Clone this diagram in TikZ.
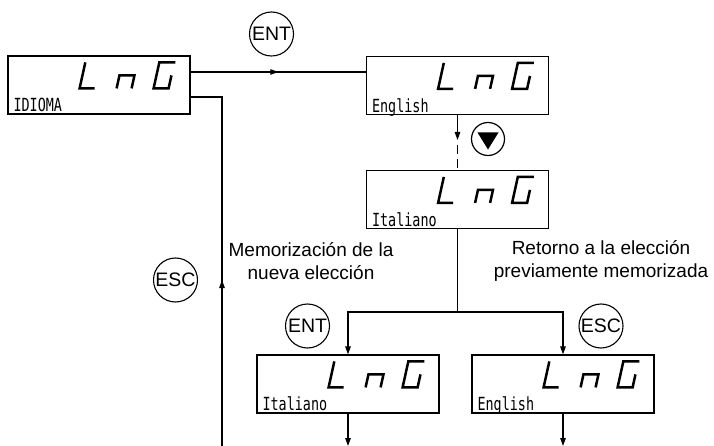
\documentclass[tikz,border=0pt]{standalone}
\usepackage{fontspec}
\usepackage{graphicx}
\setmainfont{Liberation Sans}
\newfontfamily\lcdfont{DejaVu Sans Mono}
\usetikzlibrary{arrows.meta,decorations.markings}
\tikzset{
  lcd/.style={draw, line width=1.2pt, minimum width=182pt, minimum height=58pt, inner sep=0pt},
  lcdlabel/.style={anchor=base west, inner sep=0pt, font=\lcdfont\fontsize{13.4}{14}\selectfont},
  keycircle/.style={circle, draw, line width=1.1pt, minimum size=44pt, inner sep=0pt, font=\fontsize{19.5}{19.5}\selectfont},
  note/.style={align=center, inner sep=0pt, font=\fontsize{19}{23}\selectfont},
  conn/.style={line width=1.2pt},
  tip/.style={-{Triangle[length=8pt,width=5.5pt]}},
  midarrow/.style={postaction={decorate}, decoration={markings, mark=at position #1 with {\arrow{Triangle[length=8pt,width=5.5pt]}}}},
  lng/.pic={
    \begin{scope}[xslant=0.22, line width=2.5pt, line join=miter]
      \draw (-111,-26) -- (-111,0) -- (-96,0);
      \draw (-74,0) -- (-74,-13) -- (-59,-13) -- (-59,0);
      \draw (-21,-26) -- (-37,-26) -- (-37,0) -- (-22,0) -- (-22,-13);
    \end{scope}
  }
}
\begin{document}
\begin{tikzpicture}[x=1pt, y=-1pt]
\useasboundingbox (0,0) rectangle (714,446);

% boxes
\node[lcd] (idioma) at (99,85) {};
\node[lcd] (eng) at (457.5,85.5) {};
\node[lcd] (ita) at (457.5,199.5) {};
\node[lcd] (ita2) at (348,384) {};
\node[lcd] (eng2) at (563,384) {};

\foreach \b in {idioma,eng,ita,ita2,eng2}
  \pic at ([yshift=-33pt]\b.north east) {lng};

\node[lcdlabel] (lidioma) at ([xshift=6pt,yshift=3pt]idioma.south west) {\scalebox{1}[1.35]{IDIOMA}};
\node[lcdlabel] (leng) at ([xshift=6pt,yshift=3pt]eng.south west) {\scalebox{1}[1.35]{English}};
\node[lcdlabel] (lita) at ([xshift=6pt,yshift=3pt]ita.south west) {\scalebox{1}[1.35]{Italiano}};
\node[lcdlabel] (lita2) at ([xshift=6pt,yshift=3pt]ita2.south west) {\scalebox{1}[1.35]{Italiano}};
\node[lcdlabel] (leng2) at ([xshift=6pt,yshift=3pt]eng2.south west) {\scalebox{1}[1.35]{English}};

% key circles
\node[keycircle] (ent1) at (271.5,34) {ENT};
\node[keycircle] (esc1) at (175.5,280) {ESC};
\node[keycircle] (ent2) at (307.5,326) {ENT};
\node[keycircle] (esc2) at (601,326) {ESC};
\node[circle, draw, line width=1.2pt, minimum size=33pt, inner sep=0pt] (down) at (488,139) {};
\fill ([shift={(-10.5,-6.5)}]down.center) -- ++(21,0) -- ++(-10.5,17) -- cycle;

% notes
\node[note] (mem) at (311,261) {Memorización de la\\nueva elección};
\node[note] (ret) at (601,261) {Retorno a la elección\\previamente memorizada};

% connectors
\draw[conn, midarrow=0.5] ([yshift=13pt]idioma.east) -- ([yshift=13pt]idioma.east -| eng.west);

\coordinate (dashstart) at (eng.south |- 0,140);
\draw[conn, tip] (eng.south) -- (dashstart);
\draw[conn, dash pattern=on 9pt off 5pt, dash phase=9pt] (dashstart) -- (ita.north);

\coordinate (split) at (ita.south |- 0,312);
\draw[conn] (ita.south) -- (split);
\draw[conn, tip] (split) -| (ita2.north);
\draw[conn, tip] (split) -| (eng2.north);

\coordinate (end1) at (ita2.south |- 0,446);
\coordinate (end2) at (eng2.south |- 0,446);
\draw[conn, tip] (ita2.south) -- (end1);
\draw[conn, tip] (eng2.south) -- (end2);

\coordinate (loopstart) at (222,446);
\draw[conn, midarrow=166pt] (loopstart) |- ([yshift=-12pt]idioma.east);
\end{tikzpicture}
\end{document}
